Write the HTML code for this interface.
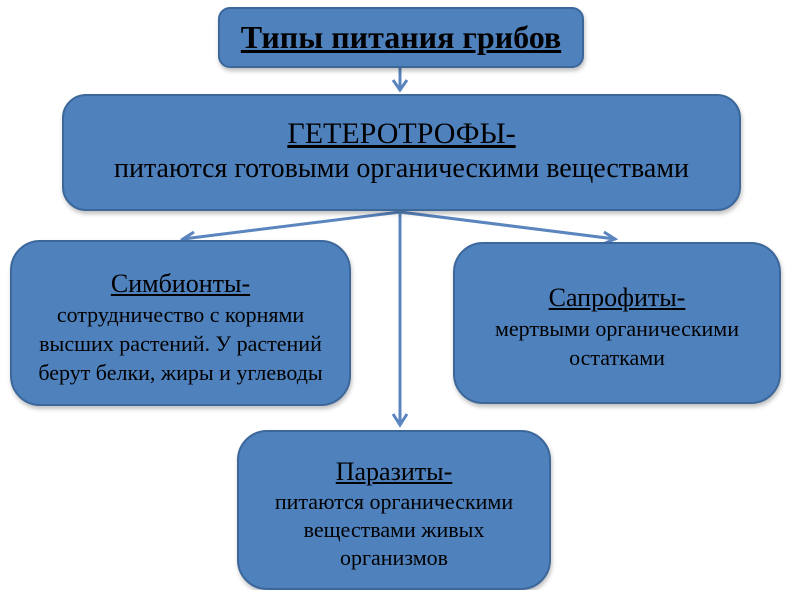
<!DOCTYPE html>
<html><head><meta charset="utf-8"><style>
body{margin:0;width:800px;height:574px;background:#fff;overflow:hidden;position:relative;font-family:"Liberation Serif",serif;color:#000}
.b{position:absolute;background:#4f81bd;border:2px solid #3c679b;box-sizing:border-box;text-align:center;box-shadow:1px 3px 4px rgba(0,0,0,.25);white-space:nowrap}
u{text-decoration:underline}
</style></head><body>
<svg width="800" height="574" style="position:absolute;left:0;top:0">
<g stroke="#5a85bf" stroke-width="3" fill="none">
<line x1="400" y1="67" x2="400" y2="90"/><polyline points="393,80 400,90 407,80"/>
<line x1="400" y1="212" x2="183" y2="239"/><polyline points="194,232 183,239 195,244"/>
<line x1="400" y1="212" x2="615" y2="239"/><polyline points="604,232 615,239 603,244"/>
<line x1="400" y1="212" x2="400" y2="425"/><polyline points="393,414 400,425 407,414"/>
</g></svg>
<div class="b" style="left:218px;top:7px;width:366px;height:61px;border-radius:12px;font-weight:bold;font-size:32px;line-height:57px"><u>Типы питания грибов</u></div>
<div class="b" style="left:62px;top:94px;width:679px;height:117px;border-radius:24px;padding-top:20px"><div style="font-size:30px;line-height:36px"><u>ГЕТЕРОТРОФЫ-</u></div><div style="font-size:28px;line-height:34px">питаются готовыми органическими веществами</div></div>
<div class="b" style="left:10px;top:240px;width:341px;height:166px;border-radius:30px;padding-top:26px"><div style="font-size:26px;line-height:32px"><u>Симбионты-</u></div><div style="font-size:22px;line-height:29px">сотрудничество с корнями<br>высших растений. У растений<br>берут белки, жиры и углеводы</div></div>
<div class="b" style="left:453px;top:242px;width:328px;height:162px;border-radius:30px;padding-top:38px"><div style="font-size:26px;line-height:32px"><u>Сапрофиты-</u></div><div style="font-size:22px;line-height:29px">мертвыми органическими<br>остатками</div></div>
<div class="b" style="left:237px;top:430px;width:314px;height:160px;border-radius:30px;padding-top:24px"><div style="font-size:26px;line-height:32px"><u>Паразиты-</u></div><div style="font-size:22px;line-height:28px">питаются органическими<br>веществами живых<br>организмов</div></div>
</body></html>
